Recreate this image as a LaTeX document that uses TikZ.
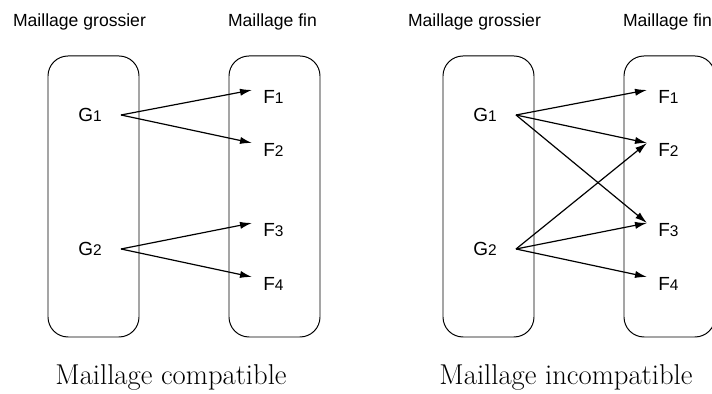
\documentclass[tikz,border=0pt]{standalone}
\usepackage{fontspec}
\newfontfamily\labelfont{Liberation Sans}
\usetikzlibrary{arrows.meta}
\newcommand{\subidx}[1]{{\fontsize{11}{13}\selectfont #1}}

\tikzset{
    mesh/.style={draw, line width=0.7pt, rounded corners=0.5cm},
    title/.style={font=\labelfont\fontsize{12.5}{15}\selectfont, anchor=base, inner sep=0pt},
    gpt/.style={font=\labelfont\fontsize{13.5}{16}\selectfont, anchor=east, inner xsep=0.475cm, inner ysep=0pt},
    fpt/.style={font=\labelfont\fontsize{13.5}{16}\selectfont, anchor=north west, inner xsep=0.275cm, inner ysep=0pt},
    caption/.style={font=\fontsize{20.4}{24}\selectfont, anchor=base, inner sep=0pt},
    link/.style={-{Latex[length=3mm,width=1.8mm]}, line width=0.85pt}
}

\begin{document}
\begin{tikzpicture}
    \useasboundingbox (0,0) rectangle (17.8,9.85);

    % Two panels: compatible and incompatible meshes
    \foreach \p/\dx/\kind in {c/0/compatible, i/9.875/incompatible} {
        \begin{scope}[xshift=\dx cm]
            % Coarse and fine mesh boxes
            \draw[mesh] (1.2,1.425) rectangle (3.475,8.45);
            \draw[mesh] (5.725,1.425) rectangle (8.0,8.45);

            % Titles
            \node[title] (\p tg) at (1.9875,9.18) {Maillage grossier};
            \node[title] (\p tf) at (6.8125,9.18) {Maillage fin};

            % Coarse mesh points
            \node[gpt] (\p G1) at (3.025,6.975) {G\subidx{1}};
            \node[gpt] (\p G2) at (3.025,3.625) {G\subidx{2}};

            % Fine mesh points
            \node[fpt] (\p F1) at (6.3,7.6) {F\subidx{1}};
            \node[fpt] (\p F2) at (6.3,6.275) {F\subidx{2}};
            \node[fpt] (\p F3) at (6.3,4.275) {F\subidx{3}};
            \node[fpt] (\p F4) at (6.3,2.925) {F\subidx{4}};

            % Caption
            \node[caption] (\p cap) at (4.275,0.225) {Maillage \kind};
        \end{scope}
    }

    % Transfer arrows
    \foreach \p in {c,i} {
        \draw[link] (\p G1.east) -- (\p F1.north west);
        \draw[link] (\p G1.east) -- (\p F2.north west);
        \draw[link] (\p G2.east) -- (\p F3.north west);
        \draw[link] (\p G2.east) -- (\p F4.north west);
    }
    \draw[link] (iG1.east) -- (iF3.north west);
    \draw[link] (iG2.east) -- (iF2.north west);
\end{tikzpicture}
\end{document}
